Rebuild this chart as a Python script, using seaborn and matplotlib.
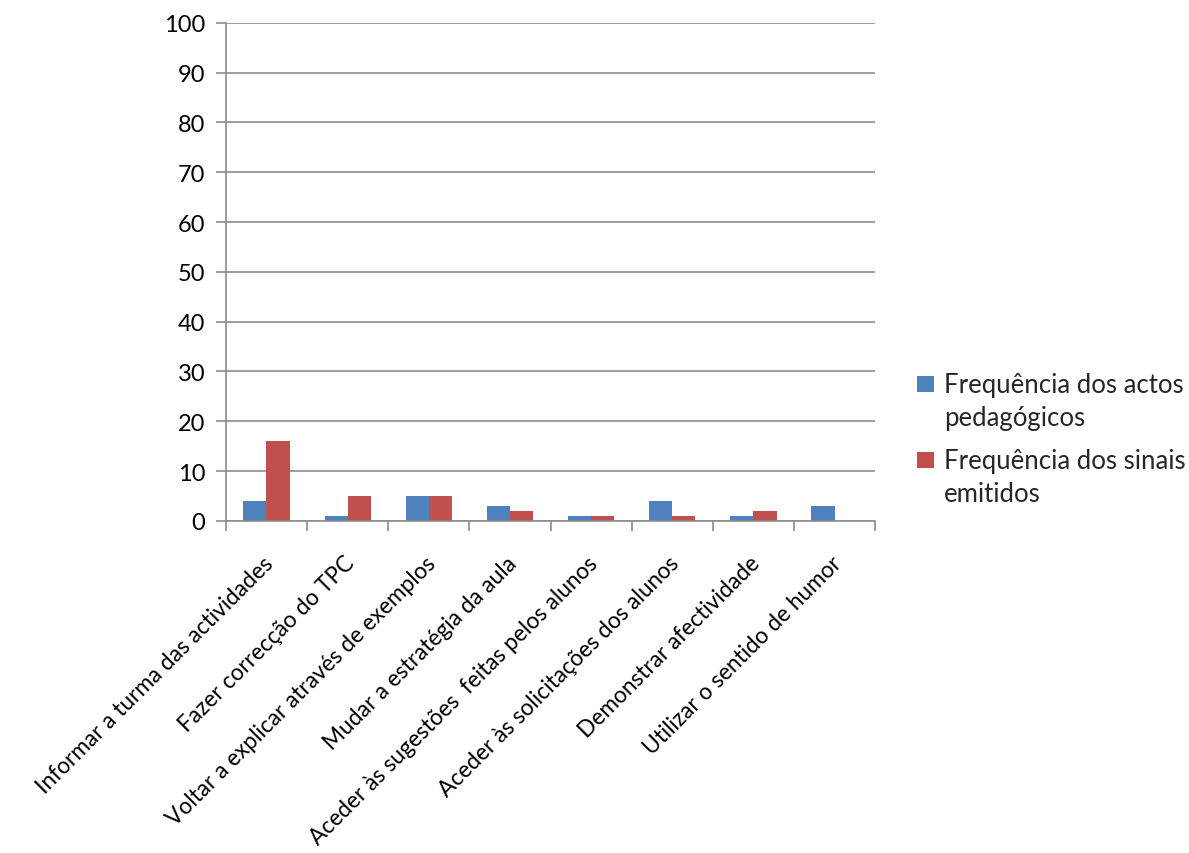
import matplotlib
matplotlib.use("Agg")
import matplotlib.pyplot as plt
import matplotlib.transforms as mtransforms
import seaborn as sns
import pandas as pd
from matplotlib.patches import Patch, Rectangle
from matplotlib.legend_handler import HandlerPatch

categories = [
    "Informar a turma das actividades",
    "Fazer correcção do TPC",
    "Voltar a explicar através de exemplos",
    "Mudar a estratégia da aula",
    "Aceder às sugestões  feitas pelos alunos",
    "Aceder às solicitações dos alunos",
    "Demonstrar afectividade",
    "Utilizar o sentido de humor",
]
series_names = ["Frequência dos actos\npedagógicos", "Frequência dos sinais\nemitidos"]
actos = [4, 1, 5, 3, 1, 4, 1, 3]
sinais = [16, 5, 5, 2, 1, 1, 2, 0]
yticks = [0, 10, 20, 30, 40, 50, 60, 70, 80, 90, 100]

colors = ["#4F81BD", "#C0504D"]

df = pd.DataFrame({
    "cat": categories * 2,
    "serie": [series_names[0]] * len(categories) + [series_names[1]] * len(categories),
    "val": actos + sinais,
})

sns.set_style("white")
plt.rcParams['font.family'] = ['Lato', 'DejaVu Sans']


class TopSquareHandler(HandlerPatch):
    def create_artists(self, legend, orig_handle, xdescent, ydescent,
                       width, height, fontsize, trans):
        side = height
        shift = 0.68 * fontsize
        p = Rectangle((-xdescent, -ydescent + shift), side, side,
                      facecolor=orig_handle.get_facecolor(), edgecolor="none",
                      transform=trans)
        return [p]


fig = plt.figure(figsize=(11.89, 8.54), dpi=100)
ax = fig.add_axes([0.190, 0.389, 0.546, 0.583])

sns.barplot(data=df, x="cat", y="val", hue="serie", palette=colors,
            width=0.57, ax=ax, legend=False, saturation=1, edgecolor="none")

ax.set_ylim(0, 100)
ax.set_xlim(-0.5, len(categories) - 0.5)
ax.set_yticks(yticks)
ax.set_yticklabels([str(v) for v in yticks], fontsize=17, color="#000000")
ax.yaxis.grid(True, color="#8c8c8c", linewidth=1.2)
ax.set_axisbelow(True)
ax.set_xlabel("")
ax.set_ylabel("")

ax.set_xticks(range(len(categories)))
ax.set_xticklabels(categories, rotation=45, ha="right", rotation_mode="anchor",
                   fontsize=16.3, color="#000000")
ax.tick_params(axis="x", which="major", length=0, pad=16)
offset = mtransforms.ScaledTranslation(-4 / 100, -9 / 100, fig.dpi_scale_trans)
for lbl in ax.get_xticklabels():
    lbl.set_transform(lbl.get_transform() + offset)
ax.set_xticks([i - 0.5 for i in range(len(categories) + 1)], minor=True)
ax.tick_params(axis="x", which="minor", length=7, color="#8c8c8c", width=1.2,
               direction="out", bottom=True)
ax.tick_params(axis="y", length=7, color="#8c8c8c", width=1.2, direction="out",
               pad=8, left=True)

for s in ["top", "right"]:
    ax.spines[s].set_visible(False)
for s in ["left", "bottom"]:
    ax.spines[s].set_color("#8c8c8c")
    ax.spines[s].set_linewidth(1.2)

handles = [Patch(facecolor=c, edgecolor="none") for c in colors]
leg = fig.legend(handles, series_names, loc="center left", bbox_to_anchor=(0.752, 0.485),
                 frameon=False, fontsize=18.5, handlelength=0.6, handleheight=0.6,
                 handletextpad=0.45, labelspacing=0.7,
                 handler_map={Patch: TopSquareHandler()})
for t in leg.get_texts():
    t.set_linespacing(1.4)

fig.savefig("out.png", dpi=100, facecolor="white")
